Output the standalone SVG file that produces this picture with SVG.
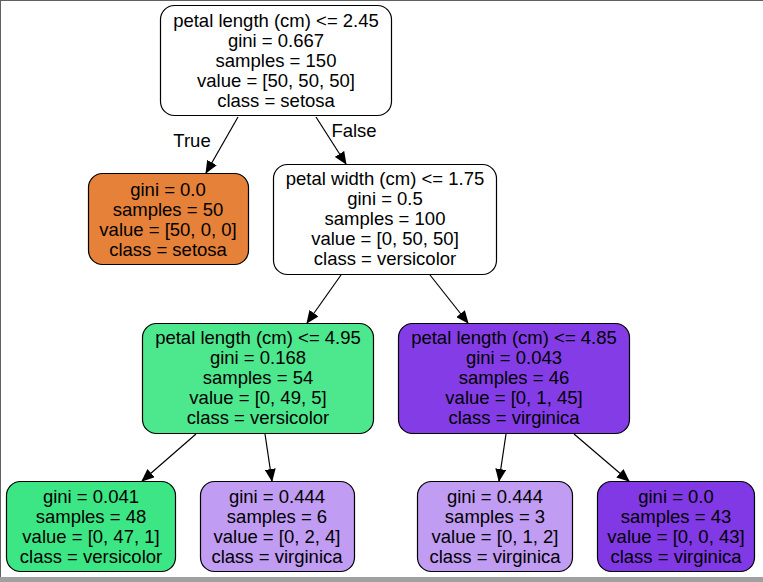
<svg xmlns="http://www.w3.org/2000/svg" width="763" height="582" viewBox="0 0 763 582">
<style>
.n rect{stroke:#000;stroke-width:1.2}
.n text,.lbl{font-family:"Liberation Sans",Arial,sans-serif;font-size:18.5px;text-anchor:middle;fill:#000}
.e line{stroke:#000;stroke-width:1.2;marker-end:url(#arr)}
</style>
<defs>
<marker id="arr" markerWidth="13" markerHeight="11" refX="12" refY="5.5" orient="auto" markerUnits="userSpaceOnUse">
<path d="M0,0 L13,5.5 L0,11 z" fill="#000"/>
</marker>
</defs>
<rect x="0" y="0" width="763" height="582" fill="#fff"/>
<line x1="0" y1="0.5" x2="763" y2="0.5" stroke="#606060" stroke-width="1"/>
<line x1="0.5" y1="0" x2="0.5" y2="577" stroke="#606060" stroke-width="1"/>
<rect x="0" y="577" width="763" height="5" fill="#a0a0a0"/>

<g id="edges" class="e">
<line x1="238" y1="117" x2="206" y2="173"/>
<line x1="316" y1="117" x2="346" y2="164"/>
<line x1="341" y1="275" x2="307" y2="323"/>
<line x1="430" y1="275" x2="468" y2="323"/>
<line x1="196" y1="434" x2="142" y2="481"/>
<line x1="265" y1="434" x2="272" y2="481"/>
<line x1="506" y1="434" x2="499" y2="481"/>
<line x1="574" y1="434" x2="629" y2="481"/>
<text class="lbl" x="192" y="147">True</text>
<text class="lbl" x="354" y="137">False</text>
</g>

<g id="node0" class="n">
<rect x="160.5" y="5.5" width="231" height="110" rx="14" fill="#fff"/>
<text x="276" y="27">petal length (cm) &lt;= 2.45</text>
<text x="276" y="47">gini = 0.667</text>
<text x="276" y="67">samples = 150</text>
<text x="276" y="87">value = [50, 50, 50]</text>
<text x="276" y="107">class = setosa</text>
</g>

<g id="node1" class="n">
<rect x="88.5" y="173.5" width="160" height="91" rx="14" fill="#e58139"/>
<text x="168" y="196">gini = 0.0</text>
<text x="168" y="216">samples = 50</text>
<text x="168" y="236">value = [50, 0, 0]</text>
<text x="168" y="256">class = setosa</text>
</g>

<g id="node2" class="n">
<rect x="273.5" y="164.5" width="223" height="110" rx="14" fill="#fff"/>
<text x="385" y="185">petal width (cm) &lt;= 1.75</text>
<text x="385" y="205">gini = 0.5</text>
<text x="385" y="225">samples = 100</text>
<text x="385" y="245">value = [0, 50, 50]</text>
<text x="385" y="265">class = versicolor</text>
</g>

<g id="node3" class="n">
<rect x="142.5" y="323.5" width="231" height="110" rx="14" fill="#4de88e"/>
<text x="258" y="344">petal length (cm) &lt;= 4.95</text>
<text x="258" y="364">gini = 0.168</text>
<text x="258" y="384">samples = 54</text>
<text x="258" y="404">value = [0, 49, 5]</text>
<text x="258" y="424">class = versicolor</text>
</g>

<g id="node4" class="n">
<rect x="398.5" y="323.5" width="231" height="110" rx="14" fill="#843de6"/>
<text x="514" y="344">petal length (cm) &lt;= 4.85</text>
<text x="514" y="364">gini = 0.043</text>
<text x="514" y="384">samples = 46</text>
<text x="514" y="404">value = [0, 1, 45]</text>
<text x="514" y="424">class = virginica</text>
</g>

<g id="node5" class="n">
<rect x="6.5" y="481.5" width="169" height="90" rx="14" fill="#3de684"/>
<text x="91" y="503">gini = 0.041</text>
<text x="91" y="523">samples = 48</text>
<text x="91" y="543">value = [0, 47, 1]</text>
<text x="91" y="563">class = versicolor</text>
</g>

<g id="node6" class="n">
<rect x="200.5" y="481.5" width="154" height="90" rx="14" fill="#c09cf2"/>
<text x="277" y="503">gini = 0.444</text>
<text x="277" y="523">samples = 6</text>
<text x="277" y="543">value = [0, 2, 4]</text>
<text x="277" y="563">class = virginica</text>
</g>

<g id="node7" class="n">
<rect x="417.5" y="481.5" width="155" height="90" rx="14" fill="#c09cf2"/>
<text x="495" y="503">gini = 0.444</text>
<text x="495" y="523">samples = 3</text>
<text x="495" y="543">value = [0, 1, 2]</text>
<text x="495" y="563">class = virginica</text>
</g>

<g id="node8" class="n">
<rect x="597.5" y="481.5" width="157" height="90" rx="14" fill="#8139e5"/>
<text x="676" y="503">gini = 0.0</text>
<text x="676" y="523">samples = 43</text>
<text x="676" y="543">value = [0, 0, 43]</text>
<text x="676" y="563">class = virginica</text>
</g>
</svg>
